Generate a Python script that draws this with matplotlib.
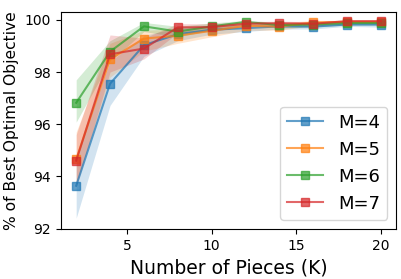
import matplotlib
matplotlib.use('Agg')
import matplotlib.pyplot as plt
import numpy as np

pieces = [2, 4, 6, 8, 10, 12, 14, 16, 18, 20]
labels = ["M=4", "M=5", "M=6", "M=7"]
colors = ["#1f77b4", "#ff7f0e", "#2ca02c", "#d62728"]

mean_m4 = [93.64, 97.55, 99.03, 99.45, 99.62, 99.68, 99.75, 99.74, 99.82, 99.82]
mean_m5 = [94.65, 98.49, 99.28, 99.39, 99.58, 99.77, 99.74, 99.90, 99.92, 99.92]
mean_m6 = [96.82, 98.78, 99.75, 99.55, 99.75, 99.92, 99.80, 99.82, 99.88, 99.88]
mean_m7 = [94.60, 98.68, 98.90, 99.71, 99.72, 99.85, 99.87, 99.85, 99.95, 99.95]

lo_m4 = [92.40, 96.72, 98.60, 99.20, 99.45, 99.55, 99.65, 99.65, 99.75, 99.72]
hi_m4 = [94.77, 98.40, 99.40, 99.70, 99.80, 99.82, 99.85, 99.85, 99.90, 99.90]
lo_m5 = [93.70, 97.80, 98.80, 99.10, 99.35, 99.60, 99.60, 99.78, 99.82, 99.82]
hi_m5 = [95.70, 99.10, 99.60, 99.65, 99.78, 99.90, 99.88, 99.98, 99.98, 99.98]
lo_m6 = [96.08, 98.40, 99.55, 99.35, 99.60, 99.82, 99.70, 99.72, 99.80, 99.80]
hi_m6 = [97.70, 99.20, 99.90, 99.75, 99.88, 99.98, 99.90, 99.90, 99.95, 99.95]
lo_m7 = [93.60, 98.00, 98.50, 99.50, 99.55, 99.75, 99.78, 99.75, 99.88, 99.88]
hi_m7 = [95.60, 99.42, 99.30, 99.85, 99.85, 99.93, 99.95, 99.93, 100.0, 100.0]

means = [mean_m4, mean_m5, mean_m6, mean_m7]
lows = [lo_m4, lo_m5, lo_m6, lo_m7]
highs = [hi_m4, hi_m5, hi_m6, hi_m7]

fig = plt.figure(figsize=(4.01, 2.79), dpi=100)
ax = fig.add_axes([0.152, 0.179, 0.836, 0.778])

for m, lo, hi, lab, c in zip(means, lows, highs, labels, colors):
    ax.fill_between(pieces, lo, hi, color=c, alpha=0.2, linewidth=0)
    ax.plot(pieces, m, marker="s", markersize=6, color=c, alpha=0.7,
            linewidth=1.5, label=lab)

ax.set_xlim(1.1, 20.9)
ax.set_ylim(91.98, 100.3)
ax.set_yticks([92, 94, 96, 98, 100])
ax.set_xticks([5, 10, 15, 20])
ax.tick_params(labelsize=10)
ax.set_xlabel("Number of Pieces (K)", fontsize=13.5)
ax.set_ylabel("% of Best Optimal Objective", fontsize=11.2)
ax.legend(loc="lower right", fontsize=13, handlelength=2.0)

fig.savefig("out.png", dpi=100)
